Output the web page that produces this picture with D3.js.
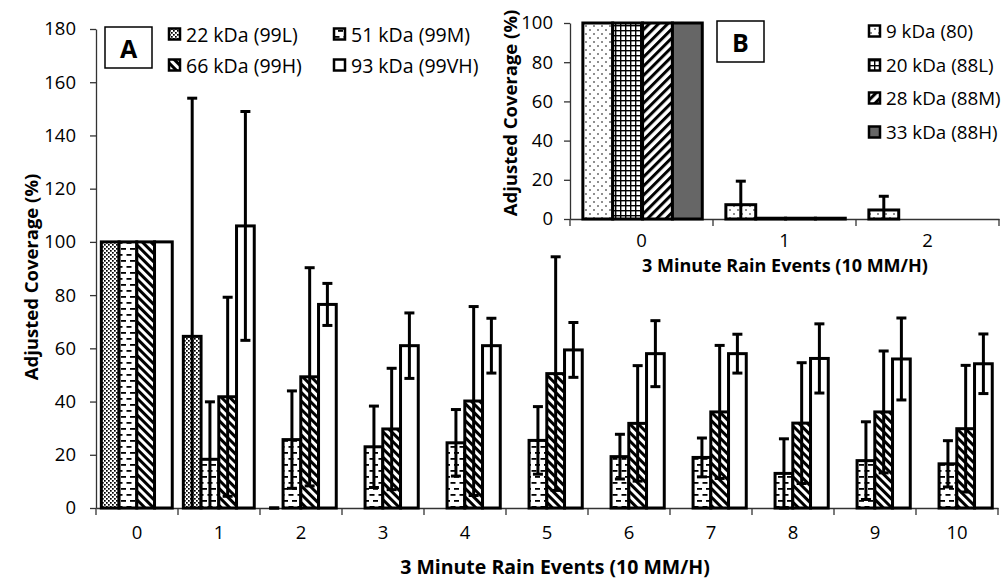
<!DOCTYPE html>
<html>
<head>
  <meta charset="utf-8">
  <title>Adjusted Coverage</title>
  <style>
    body { margin: 0; background: #fff; }
    svg text { font-family: "Open Sans", sans-serif; fill: #000; }
  </style>
</head>
<body>
  <div id="chart"></div>

  <script src="https://d3js.org/d3.v7.min.js"></script>
  <script>
    // ---- panel A data ----
    var categoriesA = ["0","1","2","3","4","5","6","7","8","9","10"];
    var seriesA = ["22 kDa (99L)", "51 kDa (99M)", "66 kDa (99H)", "93 kDa (99VH)"];
    var val22 = [100, 64.5, 0, null, null, null, null, null, null, null, null];
    var err22 = [null, 89.5, 0, null, null, null, null, null, null, null, null];
    var val51 = [100, 18.3, 25.7, 23.0, 24.5, 25.4, 19.3, 19.0, 13.0, 17.8, 16.6];
    var err51 = [null, 21.6, 18.3, 15.3, 12.5, 12.7, 8.4, 7.3, 13.0, 14.6, 8.7];
    var val66 = [100, 41.8, 49.3, 29.7, 40.2, 50.5, 31.8, 36.1, 31.9, 36.1, 29.8];
    var err66 = [null, 37.4, 41.0, 22.8, 35.5, 43.9, 21.7, 25.0, 22.7, 22.9, 23.8];
    var val93 = [100, 106, 76.5, 61.0, 61.0, 59.4, 58.0, 58.0, 56.2, 56.0, 54.2];
    var err93 = [null, 43.0, 7.9, 12.3, 10.3, 10.3, 12.4, 7.3, 13.0, 15.4, 11.2];
    var yTicksA = [0, 20, 40, 60, 80, 100, 120, 140, 160, 180];

    // ---- panel B (inset) data ----
    var categoriesB = ["0","1","2"];
    var seriesB = ["9 kDa (80)", "20 kDa (88L)", "28 kDa (88M)", "33 kDa (88H)"];
    var val9  = [100, 7.3, 4.6];
    var err9  = [null, 12.0, 7.0];
    var val20 = [100, 0.4, null];
    var val28 = [100, 0.4, null];
    var val33 = [100, 0.4, null];
    var yTicksB = [0, 20, 40, 60, 80, 100];

    var W = 1004, H = 580;
    var svg = d3.select("#chart").append("svg")
        .attr("width", W).attr("height", H);

    // patterns
    var defs = svg.append("defs");
    function pattern(id, w, h, rot) {
      var p = defs.append("pattern").attr("id", id)
          .attr("patternUnits", "userSpaceOnUse")
          .attr("width", w).attr("height", h);
      if (rot) p.attr("patternTransform", "rotate(" + rot + ")");
      p.append("rect").attr("width", w).attr("height", h).attr("fill", "#fff");
      return p;
    }
    var p22 = pattern("p22", 4, 4);
    p22.append("rect").attr("x", 0).attr("y", 0).attr("width", 1.7).attr("height", 1.7).attr("fill", "#000");
    p22.append("rect").attr("x", 2).attr("y", 2).attr("width", 1.7).attr("height", 1.7).attr("fill", "#000");
    var p51 = pattern("p51", 9, 12);
    p51.append("rect").attr("x", 0.5).attr("y", 2).attr("width", 5).attr("height", 1.8).attr("fill", "#000");
    p51.append("rect").attr("x", 4).attr("y", 8).attr("width", 5).attr("height", 1.8).attr("fill", "#000");
    var p66 = pattern("p66", 6, 6, -45);
    p66.append("rect").attr("width", 3).attr("height", 6).attr("fill", "#000");
    var p9 = pattern("p9", 8, 8);
    p9.append("circle").attr("cx", 2).attr("cy", 2).attr("r", 0.8).attr("fill", "#000");
    p9.append("circle").attr("cx", 6).attr("cy", 6).attr("r", 0.8).attr("fill", "#000");
    var p20 = pattern("p20", 5, 5);
    p20.append("rect").attr("width", 5).attr("height", 1.4).attr("fill", "#000");
    p20.append("rect").attr("width", 1.4).attr("height", 5).attr("fill", "#000");
    var p28 = pattern("p28", 6.5, 6.5, 45);
    p28.append("rect").attr("width", 3).attr("height", 6.5).attr("fill", "#000");

    var fillsA = ["url(#p22)", "url(#p51)", "url(#p66)", "#fff"];
    var fillsB = ["url(#p9)", "url(#p20)", "url(#p28)", "#666"];

    // draw one clustered bar panel
    function panel(opt) {
      var g = svg.append("g");
      var x0 = d3.scaleBand().domain(opt.categories).range(opt.xRange);
      var bw = x0.bandwidth();
      var x1 = d3.scaleBand().domain(opt.series).range([bw * opt.inner[0], bw * opt.inner[1]]);
      var y = d3.scaleLinear().domain(opt.yDomain).range(opt.yRange);

      // y axis
      var ya = g.append("g")
          .attr("transform", "translate(" + opt.xRange[0] + ",0)")
          .call(d3.axisLeft(y).tickValues(opt.yTicks).tickSize(6).tickPadding(opt.yPad).tickSizeOuter(0));
      ya.selectAll("text").attr("font-size", 18.5).attr("font-family", "Open Sans");
      ya.selectAll("line, path").attr("stroke", "#333").attr("stroke-width", 1.3);

      // x axis (labels at band centres, ticks at band edges)
      var xa = g.append("g")
          .attr("transform", "translate(0," + opt.yRange[0] + ")")
          .call(d3.axisBottom(x0).tickSize(0).tickPadding(opt.xPad).tickSizeOuter(0));
      xa.selectAll("text").attr("font-size", 18.5).attr("font-family", "Open Sans");
      xa.select("path").attr("stroke", "#333").attr("stroke-width", 1.3);
      var edges = opt.categories.map(function(c) { return x0(c); }).concat([opt.xRange[1]]);
      g.selectAll(".edge").data(edges).enter().append("line")
          .attr("x1", function(d) { return d; }).attr("x2", function(d) { return d; })
          .attr("y1", opt.yRange[0]).attr("y2", opt.yRange[0] + 7)
          .attr("stroke", "#333").attr("stroke-width", 1.3);

      // bars
      opt.series.forEach(function(s, i) {
        var vals = opt.values[i];
        var data = opt.categories.map(function(c, j) { return {c: c, v: vals[j]}; })
            .filter(function(d) { return d.v != null && d.v > 0; });
        g.selectAll(".bar" + i).data(data).enter().append("rect")
            .attr("x", function(d) { return x0(d.c) + x1(s); })
            .attr("y", function(d) { return y(d.v); })
            .attr("width", x1.bandwidth())
            .attr("height", function(d) { return Math.max(0.01, y(0) - y(d.v)); })
            .attr("fill", opt.fills[i])
            .attr("stroke", "#000").attr("stroke-width", 3);
      });

      // error bars
      opt.series.forEach(function(s, i) {
        var errs = opt.errors[i];
        if (!errs) return;
        var vals = opt.values[i];
        var data = opt.categories.map(function(c, j) { return {c: c, v: vals[j], e: errs[j]}; })
            .filter(function(d) { return d.e != null && d.v != null; });
        var eg = g.selectAll(".err" + i).data(data).enter().append("g")
            .attr("transform", function(d) { return "translate(" + (x0(d.c) + x1(s) + x1.bandwidth() / 2) + ",0)"; });
        eg.append("line")
            .attr("y1", function(d) { return y(d.v + d.e); })
            .attr("y2", function(d) { return y(Math.max(0, d.v - d.e)); })
            .attr("stroke", "#000").attr("stroke-width", 3);
        eg.append("line")
            .attr("x1", -5).attr("x2", 5)
            .attr("y1", function(d) { return y(d.v + d.e); })
            .attr("y2", function(d) { return y(d.v + d.e); })
            .attr("stroke", "#000").attr("stroke-width", 3);
        eg.filter(function(d) { return d.v - d.e >= 0; }).append("line")
            .attr("x1", -5).attr("x2", 5)
            .attr("y1", function(d) { return y(d.v - d.e); })
            .attr("y2", function(d) { return y(d.v - d.e); })
            .attr("stroke", "#000").attr("stroke-width", 3);
      });

      // axis titles
      g.append("text")
          .attr("transform", "translate(" + opt.yTitle[0] + "," + opt.yTitle[1] + ") rotate(-90)")
          .attr("text-anchor", "middle").attr("dominant-baseline", "central")
          .attr("font-size", opt.titleSize).attr("font-weight", "bold")
          .text("Adjusted Coverage (%)");
      g.append("text")
          .attr("x", opt.xTitle[0]).attr("y", opt.xTitle[1])
          .attr("text-anchor", "middle").attr("dominant-baseline", "central")
          .attr("font-size", opt.xTitleSize).attr("font-weight", "bold")
          .text("3 Minute Rain Events (10 MM/H)");

      // panel letter box
      g.append("rect")
          .attr("x", opt.box[0]).attr("y", opt.box[1]).attr("width", 47).attr("height", 41)
          .attr("fill", "#fff").attr("stroke", "#000").attr("stroke-width", 1.5);
      g.append("text")
          .attr("x", opt.box[0] + 23.5).attr("y", opt.box[1] + 21)
          .attr("text-anchor", "middle").attr("dominant-baseline", "central")
          .attr("font-size", 25).attr("font-weight", "bold")
          .text(opt.letter);

      // legend
      var lg = g.selectAll(".leg").data(opt.series).enter().append("g")
          .attr("transform", function(d, i) { return "translate(" + opt.legendPos[i][0] + "," + opt.legendPos[i][1] + ")"; });
      lg.append("rect")
          .attr("x", 0).attr("y", -5.5).attr("width", 11).attr("height", 11)
          .attr("fill", function(d, i) { return opt.fills[i]; })
          .attr("stroke", "#000").attr("stroke-width", 2.5);
      lg.append("text")
          .attr("x", 17).attr("y", 0).attr("dominant-baseline", "central")
          .attr("font-size", opt.legendSize)
          .text(function(d) { return d; });
    }

    panel({
      categories: categoriesA, series: seriesA,
      values: [val22, val51, val66, val93],
      errors: [err22, err51, err66, err93],
      fills: fillsA,
      xRange: [96, 998], inner: [0.065, 0.93],
      yDomain: [0, 180], yRange: [508, 29], yTicks: yTicksA,
      yPad: 14, xPad: 18,
      yTitle: [30, 277], titleSize: 18.5,
      xTitle: [555, 566], xTitleSize: 19.5,
      box: [105, 27], letter: "A", legendSize: 19.5,
      legendPos: [[169, 34], [334, 34], [169, 65], [334, 65]]
    });

    panel({
      categories: categoriesB, series: seriesB,
      values: [val9, val20, val28, val33],
      errors: [err9, null, null, null],
      fills: fillsB,
      xRange: [570, 999], inner: [0.09, 0.925],
      yDomain: [0, 100], yRange: [219, 23], yTicks: yTicksB,
      yPad: 11, xPad: 15,
      yTitle: [509, 113], titleSize: 18.5,
      xTitle: [785, 265], xTitleSize: 18,
      box: [717, 21], letter: "B", legendSize: 18.8,
      legendPos: [[869, 31], [869, 65], [869, 98], [869, 132]]
    });
  </script>
</body>
</html>
